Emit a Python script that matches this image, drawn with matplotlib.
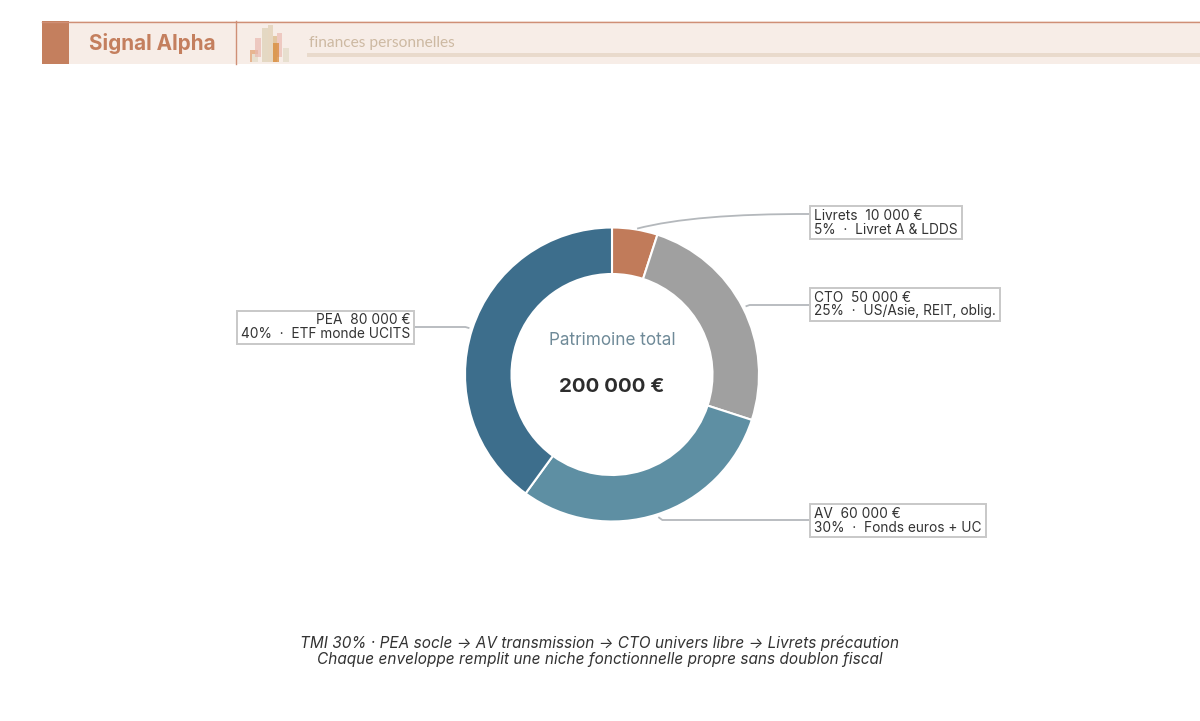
import matplotlib
matplotlib.use("Agg")
import numpy as np
import matplotlib.pyplot as plt
from matplotlib.patches import Rectangle, PathPatch
from matplotlib.path import Path

# allocation by envelope, clockwise from 12 o'clock
names = ["Livrets", "CTO", "AV", "PEA"]
amounts = [10000, 50000, 60000, 80000]
percents = [5, 25, 30, 40]
details = ["Livret A & LDDS", "US/Asie, REIT, oblig.", "Fonds euros + UC", "ETF monde UCITS"]
colors = ["#C17B5A", "#A0A0A0", "#5E8FA3", "#3D6E8C"]

caption = [
    "TMI 30% · PEA socle → AV transmission → CTO univers libre → Livrets précaution",
    "Chaque enveloppe remplit une niche fonctionnelle propre sans doublon fiscal",
]

W, H = 1200, 721
CX, CY, R = 612, 374.5, 147
TEXT = "#333333"
LINE = "#B4B8BC"


def euros(v):
    return f"{v:,}".replace(",", " ") + " €"


plt.rcParams["font.family"] = ["Inter", "DejaVu Sans"]
fig = plt.figure(figsize=(W / 100, H / 100), dpi=100)

# overlay in pixel coordinates for header, labels and connectors
ax = fig.add_axes([0, 0, 1, 1])
ax.set_xlim(0, W)
ax.set_ylim(H, 0)
ax.axis("off")

# header band
ax.add_patch(Rectangle((42, 21), W - 42, 43, fc="#F7EDE7", ec="none"))
ax.plot([42, W], [21.5, 21.5], color="#CF8F76", lw=1)
ax.add_patch(Rectangle((42, 21), 27, 43, fc="#C47F5E", ec="none"))
ax.plot([235.5, 235.5], [21, 64], color="#CF8F76", lw=1)
ax.text(89, 43.5, "Signal Alpha", weight="bold", fontsize=14.9,
        color="#C47F5E", va="center")
ax.text(309, 43.5, "finances personnelles", family="Lato", fontsize=11.15,
        color="#CDB9A2", va="center")
ax.add_patch(Rectangle((307, 53), W - 307, 4, fc="#E9DACC", ec="none"))

# small skyline logo
logo = [
    (250, 50, 8, 12, "#E3A77C", 0.8),
    (252, 54, 6, 8, "#E8DFCF", 1.0),
    (255, 38, 6, 19, "#E9B9B0", 0.7),
    (262, 28, 6, 34, "#E2D6C0", 0.9),
    (268, 25, 5, 37, "#E5D5BD", 0.9),
    (273, 36, 4, 26, "#DDBD8E", 0.8),
    (277, 33, 5, 24, "#EBBBB2", 0.7),
    (273, 43, 6, 19, "#D98A3A", 0.75),
    (283, 48, 6, 14, "#E7DFCF", 1.0),
]
for x, y, w, h, c, a in logo:
    ax.add_patch(Rectangle((x, y), w, h, fc=c, ec="none", alpha=a))

# donut
pie_ax = fig.add_axes([(CX - R) / W, (H - CY - R) / H, 2 * R / W, 2 * R / H])
pie_ax.pie(amounts, colors=colors, startangle=90, counterclock=False, radius=1,
           wedgeprops={"width": 46.5 / 147, "edgecolor": "white", "linewidth": 1.5})
pie_ax.set_xlim(-1, 1)
pie_ax.set_ylim(-1, 1)

ax.set_zorder(2)
ax.patch.set_alpha(0)

ax.text(CX, 340.5, "Patrimoine total", fontsize=12.3, color="#6F8A98", ha="center", va="center")
ax.text(CX, 386.5, euros(sum(amounts)), fontsize=14.7, weight="bold", color="#2D2D2D",
        ha="center", va="center")

# label box: anchor x, first line y, connector y
boxes = {
    "Livrets": (814, 215, 214),
    "CTO": (814, 297, 305),
    "AV": (814, 513, 520),
    "PEA": (410, 320, 327),
}

renderer = fig.canvas.get_renderer()
fracs = np.cumsum(amounts) / sum(amounts)
starts = np.concatenate([[0], fracs[:-1]])
for name, amt, pct, det, s, f in zip(names, amounts, percents, details, starts, fracs):
    bx, by, ly = boxes[name]
    left = name == "PEA"
    label = f"{name}  {euros(amt)}\n{pct}%  ·  {det}"
    t = ax.text(bx, by + 7.5, label, fontsize=9.85, color=TEXT, va="center",
                ha="right" if left else "left", multialignment="right" if left else "left",
                linespacing=1.0, zorder=4)

    # frame sized from the rendered text
    ext = t.get_window_extent(renderer)
    top = H - ext.y1
    ax.add_patch(Rectangle((ext.x0 - 4, top - 2.5), ext.width + 8, ext.height + 5,
                           fc="white", ec="#C8C8C8", lw=1.4, zorder=3))

    # connector leaves the ring at the middle of its slice
    ang = np.pi / 2 - 2 * np.pi * (s + f) / 2
    k = 1.005 if name == "Livrets" else 1.02
    x0 = CX + R * k * np.cos(ang)
    y0 = CY - R * k * np.sin(ang)
    end = ext.x1 + 4 if left else ext.x0 - 4
    if name == "Livrets":
        verts = [(x0 + 2, y0), (x0 + 60, y0 - 15), (end, ly)]
        codes = [Path.MOVETO, Path.CURVE3, Path.CURVE3]
    else:
        step = -4 if left else 4
        verts = [(x0, y0), (x0 + step, ly), (end, ly)]
        codes = [Path.MOVETO, Path.LINETO, Path.LINETO]
    ax.add_patch(PathPatch(Path(verts, codes), fc="none", ec=LINE, lw=1.3, zorder=2))

# footer note
for y, line in zip([643, 659.5], caption):
    ax.text(600, y, line, fontsize=11.05, style="italic", color=TEXT, ha="center", va="center")

fig.savefig("out.png", dpi=100)
